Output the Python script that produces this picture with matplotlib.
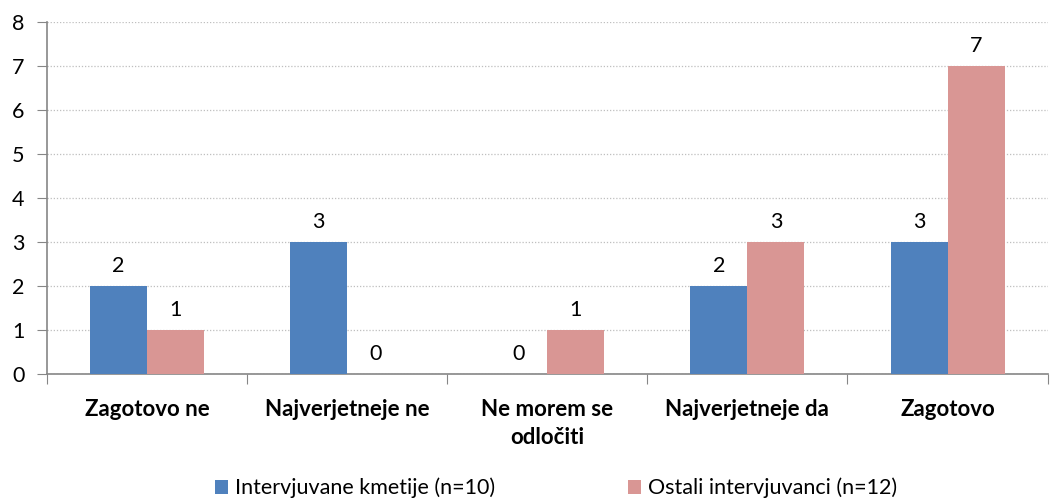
import matplotlib
matplotlib.use("Agg")
import matplotlib.pyplot as plt
import numpy as np
from matplotlib.patches import Patch

categories = ["Zagotovo ne", "Najverjetneje ne", "Ne morem se\nodločiti", "Najverjetneje da", "Zagotovo"]
series_names = ["Intervjuvane kmetije (n=10)", "Ostali intervjuvanci (n=12)"]
kmetije = [2, 3, 0, 2, 3]
ostali = [1, 0, 1, 3, 7]
colors = ["#4F81BD", "#D99694"]

plt.rcParams['font.family'] = ['Lato', 'DejaVu Sans']

fig = plt.figure(figsize=(10.55, 5.01), dpi=100)
ax = fig.add_axes([0.0445, 0.2535, 0.9485, 0.7025])

x = np.arange(len(categories))
w = 0.285
for i, (vals, c) in enumerate(zip([kmetije, ostali], colors)):
    pos = x + (i - 0.5) * w
    ax.bar(pos, vals, width=w, color=c, zorder=3, align='center')
    for p, v in zip(pos, vals):
        ax.annotate(str(v), (p, v), xytext=(0, 7), textcoords='offset points',
                    ha='center', va='bottom', fontsize=15.5, color='black')

ax.set_xlim(-0.5, len(categories) - 0.5)
ax.set_ylim(0, 8)
ax.set_yticks(range(0, 9))
ax.tick_params(axis='y', labelsize=15.5, length=7, color='#868686', direction='out', pad=9)
ax.set_xticks(np.arange(-0.5, len(categories), 1.0))
ax.set_xticklabels([])
ax.set_xticks(x, minor=True)
ax.set_xticklabels(categories, minor=True, fontsize=16, fontweight='bold', linespacing=1.4)
ax.tick_params(axis='x', which='minor', length=0, pad=18)
ax.tick_params(axis='x', which='major', length=7, color='#868686', direction='out')

ax.yaxis.grid(True, linestyle=(0, (1, 1.5)), color='#BFBFBF', linewidth=0.9, zorder=0)
ax.set_axisbelow(True)
for s in ['top', 'right']:
    ax.spines[s].set_visible(False)
for s in ['left', 'bottom']:
    ax.spines[s].set_color('#868686')
    ax.spines[s].set_linewidth(1.2)

handles = [Patch(facecolor=c, label=n) for c, n in zip(colors, series_names)]
fig.legend(handles=handles, loc='center', bbox_to_anchor=(0.527, 0.026), ncol=2,
           frameon=False, fontsize=15.5, handlelength=0.6, handleheight=0.6,
           handletextpad=0.3, columnspacing=6.2)

fig.savefig("out.png", dpi=100)
